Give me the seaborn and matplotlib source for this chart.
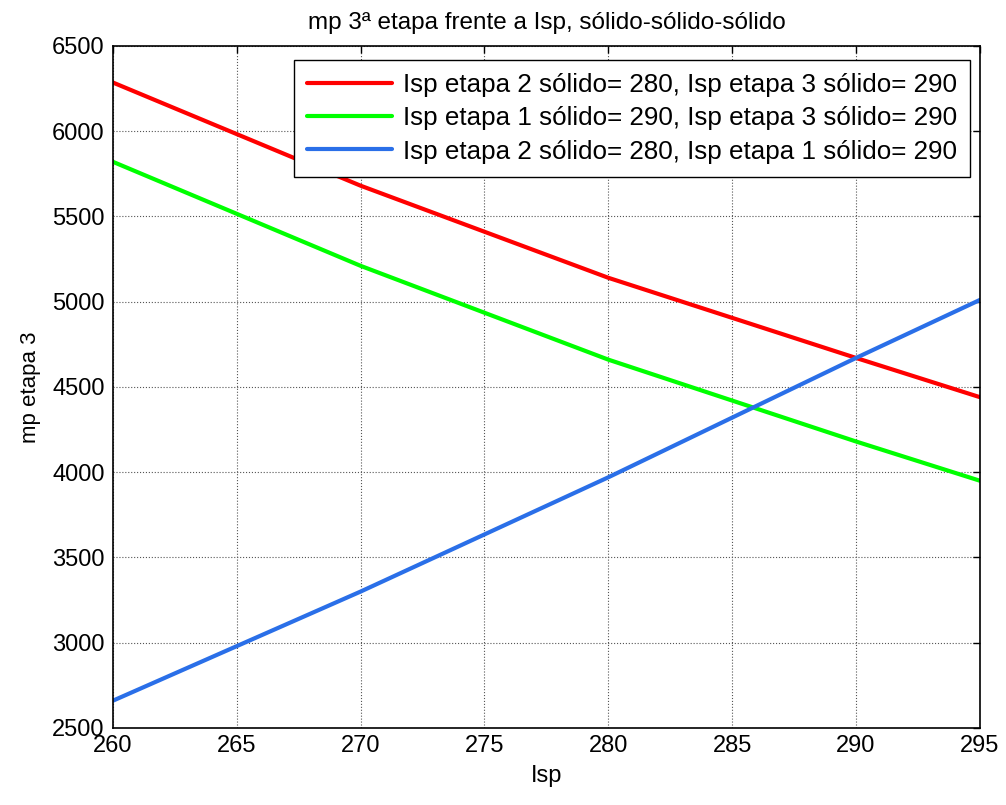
import pandas as pd
import matplotlib
matplotlib.use('Agg')
import matplotlib.pyplot as plt
import seaborn as sns

# Data
isp = [260, 270, 280, 290, 295]
red_vals = [6285, 5680, 5140, 4670, 4440]
green_vals = [5820, 5210, 4660, 4180, 3950]
blue_vals = [2660, 3300, 3970, 4670, 5010]
labels = [
    'Isp etapa 2 sólido= 280, Isp etapa 3 sólido= 290',
    'Isp etapa 1 sólido= 290, Isp etapa 3 sólido= 290',
    'Isp etapa 2 sólido= 280, Isp etapa 1 sólido= 290',
]
colors = ['#ff0000', '#00ff00', '#2a6fe8']

rows = []
for lab, vals in zip(labels, [red_vals, green_vals, blue_vals]):
    for x, y in zip(isp, vals):
        rows.append({'Isp': x, 'mp': y, 'serie': lab})
data = pd.DataFrame(rows)

sns.set_style('white')
plt.rcParams['font.family'] = ['Liberation Sans', 'DejaVu Sans']
plt.rcParams['text.color'] = 'black'
plt.rcParams['axes.labelcolor'] = 'black'
plt.rcParams['xtick.color'] = 'black'
plt.rcParams['ytick.color'] = 'black'

fig = plt.figure(figsize=(10.06, 8.05), dpi=100)
ax = fig.add_axes([0.1123, 0.0957, 0.8617, 0.8473])
sns.lineplot(data=data, x='Isp', y='mp', hue='serie', palette=colors,
             linewidth=3, ax=ax, legend=True)

ax.set_xlim(260, 295)
ax.set_ylim(2500, 6500)
ax.set_xticks(range(260, 296, 5))
ax.set_yticks(range(2500, 6501, 500))
ax.tick_params(direction='in', labelsize=17, length=5, width=1, top=True, right=True,
               color='black', labelcolor='black')
ax.tick_params(axis='x', pad=5)
ax.tick_params(axis='y', pad=6)
ax.grid(True, linestyle=':', color='#555555', linewidth=0.8)
for s in ax.spines.values():
    s.set_color('black')
    s.set_linewidth(1.2)

ax.set_title('mp 3ª etapa frente a Isp, sólido-sólido-sólido', fontsize=17.5, pad=12, color='black')
ax.set_xlabel('Isp', fontsize=17, labelpad=6)
ax.set_ylabel('mp etapa 3', fontsize=16, labelpad=8)

leg = ax.legend(loc='upper right', bbox_to_anchor=(0.9885, 0.9795), fontsize=18.7,
                frameon=True, fancybox=False, edgecolor='black', framealpha=1,
                handlelength=3.3, handletextpad=0.4, borderaxespad=0,
                borderpad=0.5, labelspacing=0.36)
leg.get_frame().set_linewidth(1)
for t in leg.get_texts():
    t.set_color('black')

fig.savefig('out.png', dpi=100)
